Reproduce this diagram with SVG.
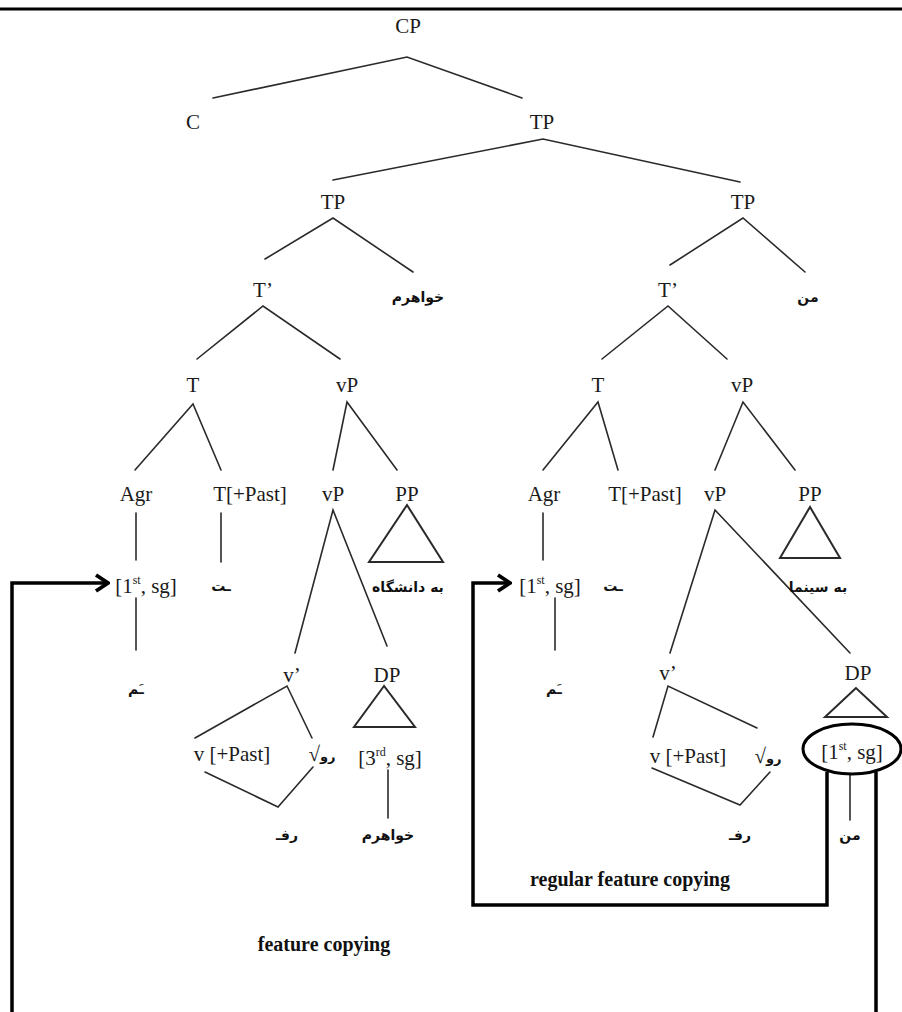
<svg xmlns="http://www.w3.org/2000/svg" width="902" height="1012" viewBox="0 0 902 1012">
<style>
.t{font-family:"Liberation Serif","Times New Roman",serif;font-size:21px;fill:#1a1a1a;text-anchor:middle}
.s{font-size:12px}
.a{font-family:"DejaVu Sans","Noto Sans",sans-serif;font-size:14px;font-weight:bold;fill:#111;text-anchor:middle;direction:rtl}
.b{font-family:"Liberation Serif","Times New Roman",serif;font-size:20px;font-weight:bold;fill:#111;text-anchor:middle}
.e{stroke:#2a2a2a;stroke-width:1.6;fill:none;stroke-linecap:round}
.tri{stroke:#2a2a2a;stroke-width:2;fill:none;stroke-linejoin:miter}
.k{stroke:#000;stroke-width:3.5;fill:none}
</style>
<defs>
<marker id="chev" viewBox="0 0 16 20" refX="14" refY="10" markerWidth="16" markerHeight="20" markerUnits="userSpaceOnUse" orient="auto">
<path d="M2,2 L14,10 L2,18" fill="none" stroke="#000" stroke-width="3.8"/>
</marker>
</defs>
<rect x="0" y="0" width="902" height="1012" fill="#fff"/>
<line x1="0" y1="9" x2="902" y2="9" stroke="#000" stroke-width="3"/>

<g id="connectors">
<path class="e" d="M213,98 L407,57 L522,98"/>
<path class="e" d="M333,180 L543,139 L740,182"/>
<path class="e" d="M265,259 L333,218 L413,272"/>
<path class="e" d="M670,265 L743,218 L805,272"/>
<path class="e" d="M197,359 L263,306 L340,359"/>
<path class="e" d="M602,359 L668,306 L727,359"/>
<path class="e" d="M135,470 L193,404 L221,470"/>
<path class="e" d="M333,470 L347,402 L397,470"/>
<path class="e" d="M543,470 L598,402 L618,470"/>
<path class="e" d="M715,470 L743,402 L795,470"/>
<line class="e" x1="136" y1="513" x2="136" y2="560"/>
<line class="e" x1="221" y1="513" x2="221" y2="562"/>
<line class="e" x1="136" y1="598" x2="136" y2="650"/>
<line class="e" x1="543" y1="513" x2="543" y2="560"/>
<line class="e" x1="555" y1="598" x2="555" y2="650"/>
<path class="e" d="M295,653 L333,510 L387,646"/>
<path class="e" d="M670,653 L715,510 L850,653"/>
<path class="e" d="M195,738 L287,686 L312,738"/>
<path class="e" d="M205,772 L278,807 L313,767"/>
<path class="e" d="M653,737 L668,686 L757,728"/>
<path class="e" d="M652,768 L740,805 L770,772"/>
<line class="e" x1="388" y1="770" x2="388" y2="818"/>
<line class="e" x1="850" y1="775" x2="850" y2="820"/>
<path class="k" d="M827,772 V905 H473 V583 H510" marker-end="url(#chev)"/>
<path class="k" d="M876,772 V1030 H12 V583 H108" marker-end="url(#chev)"/>
</g>

<g id="CP"><text class="t" x="408" y="33">CP</text></g>
<g id="C"><text class="t" x="193" y="129">C</text></g>
<g id="TP"><text class="t" x="542" y="129">TP</text></g>
<g id="TP-left"><text class="t" x="333" y="209">TP</text></g>
<g id="TP-right"><text class="t" x="743" y="209">TP</text></g>
<g id="Tbar-left"><text class="t" x="263" y="297">T’</text></g>
<g id="khaharam-top"><text class="a" x="418" y="302">خواهرم</text></g>
<g id="Tbar-right"><text class="t" x="668" y="297">T’</text></g>
<g id="man-top"><text class="a" x="808" y="302">من</text></g>
<g id="T-left"><text class="t" x="193" y="392">T</text></g>
<g id="vP-left"><text class="t" x="347" y="392">vP</text></g>
<g id="T-right"><text class="t" x="598" y="392">T</text></g>
<g id="vP-right"><text class="t" x="742" y="392">vP</text></g>

<g id="Agr-left"><text class="t" x="136" y="501">Agr</text></g>
<g id="TPast-left"><text class="t" x="250" y="501">T[+Past]</text></g>
<g id="vP2-left"><text class="t" x="333" y="501">vP</text></g>
<g id="PP-left"><text class="t" x="407" y="501">PP</text>
<polygon class="tri" points="407,505 369,562 443,562"/>
<text class="a" x="408" y="592">به دانشگاه</text></g>

<g id="Agr-right"><text class="t" x="544" y="501">Agr</text></g>
<g id="TPast-right"><text class="t" x="645" y="501">T[+Past]</text></g>
<g id="vP2-right"><text class="t" x="715" y="501">vP</text></g>
<g id="PP-right"><text class="t" x="810" y="501">PP</text>
<polygon class="tri" points="810,507 780,558 840,558"/>
<text class="a" x="818" y="592">به سینما</text></g>

<g id="feat-left"><text class="t" x="146" y="593">[1<tspan class="s" dy="-9">st</tspan><tspan dy="9">, sg]</tspan></text></g>
<g id="ta-left"><text class="a" x="221" y="591">ـت</text></g>
<g id="feat-right"><text class="t" x="550" y="593">[1<tspan class="s" dy="-9">st</tspan><tspan dy="9">, sg]</tspan></text></g>
<g id="ta-right"><text class="a" x="613" y="591">ـت</text></g>
<g id="am-left"><text class="a" x="136" y="694">ـَم</text></g>
<g id="am-right"><text class="a" x="554" y="694">ـَم</text></g>

<g id="vbar-left"><text class="t" x="292" y="682">v’</text></g>
<g id="DP-left"><text class="t" x="387" y="682">DP</text>
<polygon class="tri" points="384,686 354,727 415,727"/></g>
<g id="vPast-left"><text class="t" x="232" y="761">v [+Past]</text></g>
<g id="root-left"><text class="t" x="322" y="761">√<tspan class="a" style="font-size:13px">رو</tspan></text></g>
<g id="feat3-left"><text class="t" x="390" y="765">[3<tspan class="s" dy="-9">rd</tspan><tspan dy="9">, sg]</tspan></text></g>
<g id="raf-left"><text class="a" x="287" y="840">رفـ</text></g>
<g id="khaharam-bottom"><text class="a" x="388" y="840">خواهرم</text></g>

<g id="vbar-right"><text class="t" x="668" y="680">v’</text></g>
<g id="DP-right"><text class="t" x="858" y="680">DP</text>
<polygon class="tri" points="856,688 825,717 887,717"/></g>
<g id="vPast-right"><text class="t" x="688" y="763">v [+Past]</text></g>
<g id="root-right"><text class="t" x="768" y="763">√<tspan class="a" style="font-size:13px">رو</tspan></text></g>
<g id="feat-DP-right"><ellipse cx="852" cy="749" rx="49" ry="25" fill="none" stroke="#000" stroke-width="3"/>
<text class="t" x="852" y="759">[1<tspan class="s" dy="-9">st</tspan><tspan dy="9">, sg]</tspan></text></g>
<g id="raf-right"><text class="a" x="740" y="840">رفـ</text></g>
<g id="man-bottom"><text class="a" x="850" y="840">من</text></g>

<g id="label-regular"><text class="b" x="630" y="886">regular feature copying</text></g>
<g id="label-feature"><text class="b" x="324" y="951">feature copying</text></g>
</svg>
